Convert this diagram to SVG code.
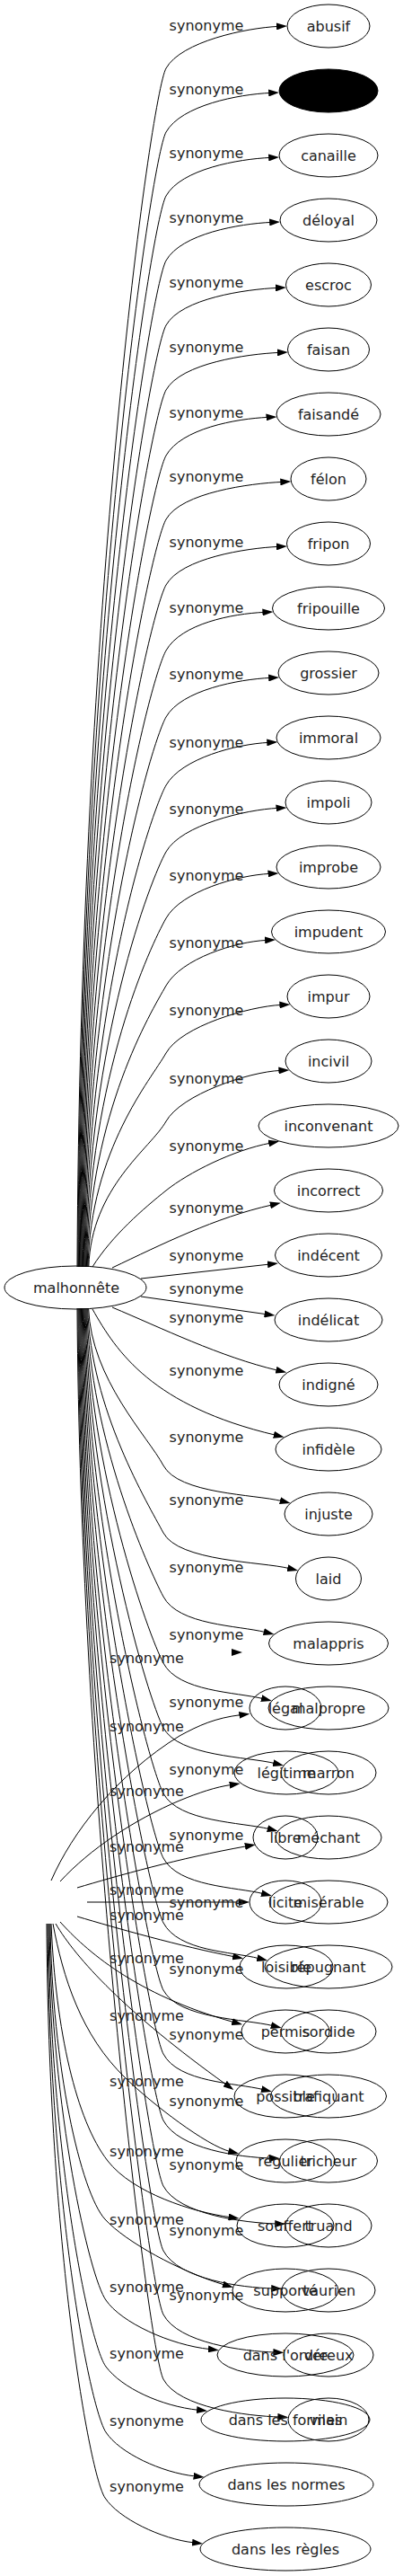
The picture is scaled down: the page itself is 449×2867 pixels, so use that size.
<svg xmlns="http://www.w3.org/2000/svg" width="449" height="2867" viewBox="0 0 449 2867">
<style>
.n ellipse{fill:none;stroke:#000;stroke-width:1}
text{font-family:"DejaVu Sans","Liberation Sans",sans-serif;font-size:16px;fill:#222;text-anchor:middle}
.e path{fill:none;stroke:#000;stroke-width:1;marker-end:url(#arr)}
</style>
<defs>
<marker id="arr" markerUnits="userSpaceOnUse" markerWidth="12" markerHeight="8" viewBox="0 -4 12 8" refX="2" refY="0" orient="auto"><path d="M0,-4 L12,0 L0,4 z" fill="#000"/></marker>
</defs>
<rect width="449" height="2867" fill="#fff"/>
<g id="edges" class="e">
<path d="M86,1410 C89,676 168,106 185,76 C202,46 275,31 310,29.4"/>
<path d="M86.8,1410 C89.8,715 168,177 185,147 C202,117 266,105 301.2,103.4"/>
<path d="M87.6,1410 C90.6,754 168,248 185,218 C202,188 266,177 301.2,175.4"/>
<path d="M88.4,1410 C91.4,794 168,320 185,290 C202,260 267,249 302.2,247.4"/>
<path d="M89.2,1410 C92.2,834 168,392 185,362 C202,332 274,322 308.9,320.4"/>
<path d="M90,1410 C93,873 168,464 185,434 C202,404 276,394 310.9,392.4"/>
<path d="M90.8,1410 C93.8,913 168,537 185,507 C202,477 263,466 298.5,464.4"/>
<path d="M91.6,1410 C94.6,952 168,608 185,578 C202,548 279,538 314.3,536.4"/>
<path d="M92.4,1410 C95.4,993 168,681 185,651 C202,621 275,610 309.9,608.4"/>
<path d="M93.2,1410 C96.2,1033 168,754 185,724 C202,694 259,683 294.4,681.4"/>
<path d="M94,1410 C97,1073 168,828 185,798 C202,768 266,756 301.2,754.4"/>
<path d="M94.8,1410 C97.8,1115 168,904 185,874 C202,844 264,828 299.3,826.4"/>
<path d="M95.6,1410 C98.6,1156 168,978 185,948 C202,918 274,901 309.5,899.4"/>
<path d="M96.4,1410 C99.4,1197 168,1052 185,1022 C202,992 265,974 300.5,972.4"/>
<path d="M97.2,1410 C100.2,1238 168,1127 185,1097 C202,1067 262,1048 297.1,1046.4"/>
<path d="M98,1410 C101,1279 168,1202 185,1172 C202,1142 278,1120 313.4,1118.4"/>
<path d="M98.8,1410 C101.8,1321 168,1278 185,1248 C202,1218 277,1193 312.4,1191.4"/>
<path d="M103,1410 C125,1375 160,1345 185,1325 C210,1305 260,1280 301.2,1272.2"/>
<path d="M125,1411 C180,1385 240,1355 303,1341"/>
<path d="M157,1423 L300,1407.1"/>
<path d="M157,1443 L296.6,1462.7"/>
<path d="M125,1455 C180,1478 245,1510 309.5,1525.2"/>
<path d="M103,1457 C130,1505 170,1565 306.9,1597.2"/>
<path d="M98.6,1456 C101.6,1535 165,1599 182,1631 C199,1663 283.6,1663.1 313.9,1670.6"/>
<path d="M97.7,1456 C100.7,1568 165,1674 182,1706 C199,1738 292,1738.1 322.3,1745.6"/>
<path d="M96.8,1456 C99.8,1600 165,1745 182,1777 C199,1809 265.5,1809.1 295.8,1816.6"/>
<path d="M95.9,1456 C98.9,1634 165,1819 182,1851 C199,1883 262.8,1883.1 293.1,1890.6"/>
<path d="M95,1456 C98,1666 165,1891 182,1923 C199,1955 276,1955.1 306.3,1962.6"/>
<path d="M94.1,1456 C97.1,1699 165,1964 182,1996 C199,2028 269.6,2028.1 299.9,2035.6"/>
<path d="M93.2,1456 C96.2,1731 165,2036 182,2068 C199,2100 262.9,2100.1 293.2,2107.6"/>
<path d="M92.3,1456 C95.3,1764 165,2108 182,2140 C199,2172 258.1,2172.1 288.4,2179.6"/>
<path d="M91.4,1456 C94.4,1798 165,2183 182,2215 C199,2247 273.7,2247.1 304,2254.6"/>
<path d="M90.5,1456 C93.5,1830 165,2254 182,2286 C199,2318 262.9,2318.1 293.2,2325.6"/>
<path d="M89.6,1456 C92.6,1863 165,2328 182,2360 C199,2392 266.9,2401 301.9,2402"/>
<path d="M88.7,1456 C91.7,1896 165,2401 182,2433 C199,2465 273.2,2474 308.2,2475"/>
<path d="M87.8,1456 C90.8,1928 165,2473 182,2505 C199,2537 269.2,2546 304.2,2547"/>
<path d="M86.9,1456 C89.9,1960 165,2544 182,2576 C199,2608 271.4,2617 306.4,2618"/>
<path d="M86,1456 C89,1993 165,2616 182,2648 C199,2680 276.4,2689 311.4,2690"/>
<path d="M57,2093 C80,2040 130,1975 200,1932 C222,1920 240,1912 268.4,1908.6"/>
<path d="M67,2094 C100,2058 150,2025 200,2004 C222,1995 240,1989 257.7,1986.4"/>
<path d="M86,2101 C130,2088 200,2068 274.9,2054.7"/>
<path d="M97,2117 L268,2117"/>
<path d="M86,2133 C130,2146 200,2166 261.2,2177.8"/>
<path d="M67,2139 C95,2170 150,2220 260.5,2250.6"/>
<path d="M62,2141 C85,2180 140,2240 252.2,2320.2"/>
<path d="M59,2141 C70,2200 90,2265 140,2313 C170,2342 230,2388 256.5,2394.6"/>
<path d="M57,2141 C62,2260 85,2360 120,2405 C148,2441 215,2462 256.6,2467.7"/>
<path d="M56,2141 C58,2300 90,2440 117,2470 C140,2495 200,2528 250.2,2543"/>
<path d="M55,2141 C57,2350 100,2535 118,2560 C135,2585 190,2610 233.9,2614.6"/>
<path d="M54,2141 C56,2400 100,2610 118,2634 C136,2658 180,2678 221.1,2682.3"/>
<path d="M53,2141 C55,2450 100,2680 118,2707 C133,2730 180,2752 217.6,2756"/>
<path d="M52,2141 C54,2500 100,2755 117,2780 C132,2803 180,2826 216.1,2829.9"/>
<polygon points="258,1835 270,1839 258,1843" fill="#000"/>
</g>
<g id="edge-labels">
<text x="230" y="34">synonyme</text>
<text x="230" y="105">synonyme</text>
<text x="230" y="176">synonyme</text>
<text x="230" y="248">synonyme</text>
<text x="230" y="320">synonyme</text>
<text x="230" y="392">synonyme</text>
<text x="230" y="465">synonyme</text>
<text x="230" y="536">synonyme</text>
<text x="230" y="609">synonyme</text>
<text x="230" y="682">synonyme</text>
<text x="230" y="756">synonyme</text>
<text x="230" y="832">synonyme</text>
<text x="230" y="906">synonyme</text>
<text x="230" y="980">synonyme</text>
<text x="230" y="1055">synonyme</text>
<text x="230" y="1130">synonyme</text>
<text x="230" y="1206">synonyme</text>
<text x="230" y="1281">synonyme</text>
<text x="230" y="1350">synonyme</text>
<text x="230" y="1403">synonyme</text>
<text x="230" y="1440">synonyme</text>
<text x="230" y="1472">synonyme</text>
<text x="230" y="1531">synonyme</text>
<text x="230" y="1605">synonyme</text>
<text x="230" y="1675">synonyme</text>
<text x="230" y="1750">synonyme</text>
<text x="230" y="1825">synonyme</text>
<text x="230" y="1900">synonyme</text>
<text x="230" y="1975">synonyme</text>
<text x="230" y="2048">synonyme</text>
<text x="230" y="2123">synonyme</text>
<text x="230" y="2197">synonyme</text>
<text x="230" y="2270">synonyme</text>
<text x="230" y="2344">synonyme</text>
<text x="230" y="2415">synonyme</text>
<text x="230" y="2488">synonyme</text>
<text x="230" y="2560">synonyme</text>
<text x="163.5" y="1851">synonyme</text>
<text x="163.5" y="1927">synonyme</text>
<text x="163.5" y="1999">synonyme</text>
<text x="163.5" y="2061">synonyme</text>
<text x="163.5" y="2109">synonyme</text>
<text x="163.5" y="2137">synonyme</text>
<text x="163.5" y="2185">synonyme</text>
<text x="163.5" y="2249">synonyme</text>
<text x="163.5" y="2322">synonyme</text>
<text x="163.5" y="2400">synonyme</text>
<text x="163.5" y="2476">synonyme</text>
<text x="163.5" y="2551">synonyme</text>
<text x="163.5" y="2625">synonyme</text>
<text x="163.5" y="2700">synonyme</text>
<text x="163.5" y="2773">synonyme</text>
</g>
<g id="n-malhonnete" class="n"><ellipse cx="84" cy="1433" rx="79" ry="24"/><text x="85" y="1439">malhonnête</text></g>
<g id="n-abusif" class="n"><ellipse cx="366" cy="29" rx="46" ry="24"/><text x="366" y="35">abusif</text></g>
<g id="n-black" class="n"><ellipse cx="366" cy="101" rx="55" ry="24" style="fill:#000"/></g>
<g id="n-canaille" class="n"><ellipse cx="366" cy="173" rx="55" ry="24"/><text x="366" y="179">canaille</text></g>
<g id="n-deloyal" class="n"><ellipse cx="366" cy="245" rx="54" ry="24"/><text x="366" y="251">déloyal</text></g>
<g id="n-escroc" class="n"><ellipse cx="366" cy="317" rx="47.5" ry="24"/><text x="366" y="323">escroc</text></g>
<g id="n-faisan" class="n"><ellipse cx="366" cy="389" rx="45.5" ry="24"/><text x="366" y="395">faisan</text></g>
<g id="n-faisande" class="n"><ellipse cx="366" cy="461" rx="58" ry="24"/><text x="366" y="467">faisandé</text></g>
<g id="n-felon" class="n"><ellipse cx="366" cy="533" rx="42" ry="24"/><text x="366" y="539">félon</text></g>
<g id="n-fripon" class="n"><ellipse cx="366" cy="605" rx="46.5" ry="24"/><text x="366" y="611">fripon</text></g>
<g id="n-fripouille" class="n"><ellipse cx="366" cy="677" rx="62.5" ry="24"/><text x="366" y="683">fripouille</text></g>
<g id="n-grossier" class="n"><ellipse cx="366" cy="749" rx="56" ry="24"/><text x="366" y="755">grossier</text></g>
<g id="n-immoral" class="n"><ellipse cx="366" cy="821" rx="58" ry="24"/><text x="366" y="827">immoral</text></g>
<g id="n-impoli" class="n"><ellipse cx="366" cy="893" rx="48" ry="24"/><text x="366" y="899">impoli</text></g>
<g id="n-improbe" class="n"><ellipse cx="366" cy="965" rx="58" ry="24"/><text x="366" y="971">improbe</text></g>
<g id="n-impudent" class="n"><ellipse cx="366" cy="1037" rx="63.5" ry="24"/><text x="366" y="1043">impudent</text></g>
<g id="n-impur" class="n"><ellipse cx="366" cy="1109" rx="46" ry="24"/><text x="366" y="1115">impur</text></g>
<g id="n-incivil" class="n"><ellipse cx="366" cy="1181" rx="48" ry="24"/><text x="366" y="1187">incivil</text></g>
<g id="n-inconvenant" class="n"><ellipse cx="366" cy="1253" rx="78" ry="24"/><text x="366" y="1259">inconvenant</text></g>
<g id="n-incorrect" class="n"><ellipse cx="366" cy="1325" rx="60.5" ry="24"/><text x="366" y="1331">incorrect</text></g>
<g id="n-indecent" class="n"><ellipse cx="366" cy="1397" rx="59.5" ry="24"/><text x="366" y="1403">indécent</text></g>
<g id="n-indelicat" class="n"><ellipse cx="366" cy="1469" rx="60" ry="24"/><text x="366" y="1475">indélicat</text></g>
<g id="n-indigne" class="n"><ellipse cx="366" cy="1541" rx="55" ry="24"/><text x="366" y="1547">indigné</text></g>
<g id="n-infidele" class="n"><ellipse cx="366" cy="1613" rx="59" ry="24"/><text x="366" y="1619">infidèle</text></g>
<g id="n-injuste" class="n"><ellipse cx="366" cy="1685" rx="49" ry="24"/><text x="366" y="1691">injuste</text></g>
<g id="n-laid" class="n"><ellipse cx="366" cy="1757" rx="36.5" ry="24"/><text x="366" y="1763">laid</text></g>
<g id="n-malappris" class="n"><ellipse cx="366" cy="1829" rx="66.5" ry="24"/><text x="366" y="1835">malappris</text></g>
<g id="n-malpropre" class="n"><ellipse cx="366" cy="1901" rx="67" ry="24"/><text x="366" y="1907">malpropre</text></g>
<g id="n-marron" class="n"><ellipse cx="366" cy="1973" rx="53" ry="24"/><text x="366" y="1979">marron</text></g>
<g id="n-mechant" class="n"><ellipse cx="366" cy="2045" rx="59" ry="24"/><text x="366" y="2051">méchant</text></g>
<g id="n-miserable" class="n"><ellipse cx="366" cy="2117" rx="66" ry="24"/><text x="366" y="2123">misérable</text></g>
<g id="n-repugnant" class="n"><ellipse cx="366" cy="2189" rx="71" ry="24"/><text x="366" y="2195">répugnant</text></g>
<g id="n-sordide" class="n"><ellipse cx="366" cy="2261" rx="53" ry="24"/><text x="366" y="2267">sordide</text></g>
<g id="n-trafiquant" class="n"><ellipse cx="366" cy="2333" rx="64.5" ry="24"/><text x="366" y="2339">trafiquant</text></g>
<g id="n-tricheur" class="n"><ellipse cx="366" cy="2405" rx="54.5" ry="24"/><text x="366" y="2411">tricheur</text></g>
<g id="n-truand" class="n"><ellipse cx="366" cy="2477" rx="48" ry="24"/><text x="366" y="2483">truand</text></g>
<g id="n-vaurien" class="n"><ellipse cx="366" cy="2549" rx="52" ry="24"/><text x="366" y="2555">vaurien</text></g>
<g id="n-vereux" class="n"><ellipse cx="366" cy="2621" rx="50" ry="24"/><text x="366" y="2627">véreux</text></g>
<g id="n-vilain" class="n"><ellipse cx="366" cy="2693" rx="45" ry="24"/><text x="366" y="2699">vilain</text></g>
<g id="n-legal" class="n"><ellipse cx="318" cy="1901" rx="40" ry="24"/><text x="318" y="1907">légal</text></g>
<g id="n-legitime" class="n"><ellipse cx="319" cy="1973" rx="58" ry="24"/><text x="319" y="1979">légitime</text></g>
<g id="n-libre" class="n"><ellipse cx="318" cy="2045" rx="36" ry="24"/><text x="318" y="2051">libre</text></g>
<g id="n-licite" class="n"><ellipse cx="318" cy="2117" rx="40" ry="24"/><text x="318" y="2123">licite</text></g>
<g id="n-loisible" class="n"><ellipse cx="319" cy="2189" rx="52" ry="24"/><text x="319" y="2195">loisible</text></g>
<g id="n-permis" class="n"><ellipse cx="318" cy="2261" rx="49" ry="24"/><text x="318" y="2267">permis</text></g>
<g id="n-possible" class="n"><ellipse cx="318" cy="2333" rx="57" ry="24"/><text x="318" y="2339">possible</text></g>
<g id="n-regulier" class="n"><ellipse cx="318" cy="2405" rx="55" ry="24"/><text x="318" y="2411">régulier</text></g>
<g id="n-souffert" class="n"><ellipse cx="318" cy="2477" rx="54" ry="24"/><text x="318" y="2483">souffert</text></g>
<g id="n-supporte" class="n"><ellipse cx="318" cy="2549" rx="59" ry="24"/><text x="318" y="2555">supporté</text></g>
<g id="n-dans-l-ordre" class="n"><ellipse cx="318" cy="2621" rx="76" ry="24"/><text x="318" y="2627">dans l'ordre</text></g>
<g id="n-dans-les-formes" class="n"><ellipse cx="318" cy="2693" rx="94" ry="24"/><text x="318" y="2699">dans les formes</text></g>
<g id="n-dans-les-normes" class="n"><ellipse cx="319" cy="2765" rx="97" ry="24"/><text x="319" y="2771">dans les normes</text></g>
<g id="n-dans-les-regles" class="n"><ellipse cx="318" cy="2837" rx="95" ry="24"/><text x="318" y="2843">dans les règles</text></g>
</svg>
